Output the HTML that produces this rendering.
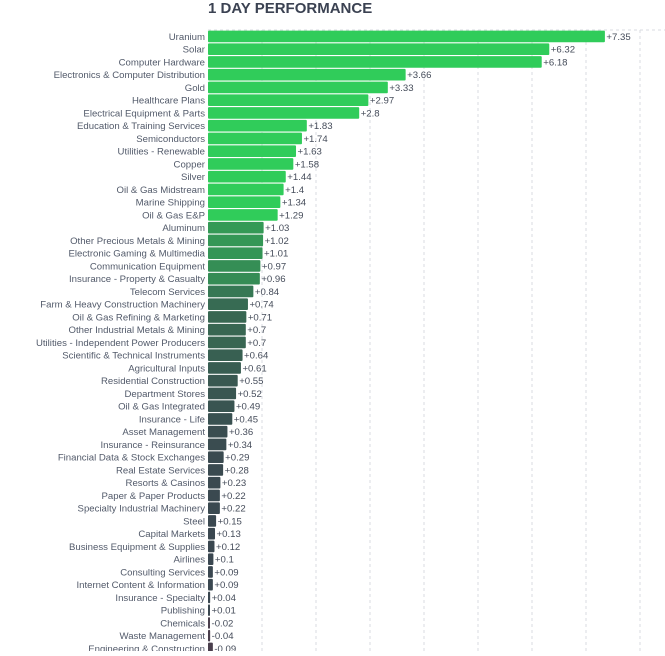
<!DOCTYPE html>
<html><head><meta charset="utf-8"><style>
body{margin:0;background:#fff;width:665px;height:651px;overflow:hidden;font-family:"Liberation Sans",sans-serif}
</style></head><body>
<svg id="c" width="665" height="651">
<text x="208" y="13" font-size="15" font-weight="bold" fill="#3b4252">1 DAY PERFORMANCE</text>
</svg>
<script>
const categories=["Uranium","Solar","Computer Hardware","Electronics & Computer Distribution","Gold","Healthcare Plans","Electrical Equipment & Parts","Education & Training Services","Semiconductors","Utilities - Renewable","Copper","Silver","Oil & Gas Midstream","Marine Shipping","Oil & Gas E&P","Aluminum","Other Precious Metals & Mining","Electronic Gaming & Multimedia","Communication Equipment","Insurance - Property & Casualty","Telecom Services","Farm & Heavy Construction Machinery","Oil & Gas Refining & Marketing","Other Industrial Metals & Mining","Utilities - Independent Power Producers","Scientific & Technical Instruments","Agricultural Inputs","Residential Construction","Department Stores","Oil & Gas Integrated","Insurance - Life","Asset Management","Insurance - Reinsurance","Financial Data & Stock Exchanges","Real Estate Services","Resorts & Casinos","Paper & Paper Products","Specialty Industrial Machinery","Steel","Capital Markets","Business Equipment & Supplies","Airlines","Consulting Services","Internet Content & Information","Insurance - Specialty","Publishing","Chemicals","Waste Management","Engineering & Construction"];
const values=[7.35,6.32,6.18,3.66,3.33,2.97,2.8,1.83,1.74,1.63,1.58,1.44,1.4,1.34,1.29,1.03,1.02,1.01,0.97,0.96,0.84,0.74,0.71,0.7,0.7,0.64,0.61,0.55,0.52,0.49,0.45,0.36,0.34,0.29,0.28,0.23,0.22,0.22,0.15,0.13,0.12,0.1,0.09,0.09,0.04,0.01,-0.02,-0.04,-0.09];
const gridTicks=[0,1,2,3,4,5,6,7,8];
const svg=document.getElementById('c');const NS='http://www.w3.org/2000/svg';
const x0=208,ppu=54,y0=30,row=12.75;
const xs=v=>x0+v*ppu;const ys=i=>y0+i*row;
function mk(t,a){const e=document.createElementNS(NS,t);for(const k in a)e.setAttribute(k,a[k]);svg.appendChild(e);return e;}
gridTicks.forEach(t=>{if(t===0)return;const l=mk('line',{x1:xs(t),x2:xs(t),y1:y0,y2:651,stroke:'#d8dbe0','stroke-dasharray':'3,3','stroke-width':1});

});
const tl=mk('line',{x1:x0,x2:665,y1:y0,y2:y0,stroke:'#d8dbe0','stroke-dasharray':'3,3'});


function col(v){if(v<0)return '#4a3f4d';const t=Math.min(v/1.25,1);const a=[58,71,80],b=[48,204,90];
const mix=a.map((c,i)=>Math.round(c+(b[i]-c)*Math.pow(t,2.5)));return `rgb(${mix.join(',')})`;}
categories.forEach((c,i)=>{const v=values[i];const y=ys(i);
const w=Math.max(Math.abs(v)*ppu,2);
const r=mk('rect',{x:x0,y:y+0.6,width:w,height:11.6,fill:col(v),rx:1});


const lb=mk('text',{x:205,y:y+9.8,'font-size':9.6,fill:'#525a6a','text-anchor':'end'});lb.textContent=c;


const vl=mk('text',{x:x0+w+1.5,y:y+9.8,'font-size':9.6,fill:'#454c5a'});vl.textContent=(v>=0?'+':'')+v;

});
</script>
</body></html>
